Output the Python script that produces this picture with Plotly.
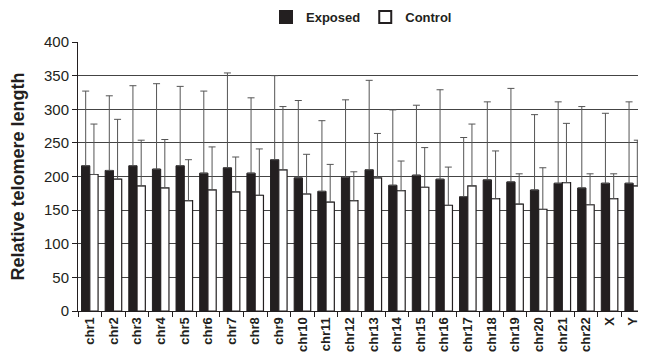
import plotly.graph_objects as go

categories = ["chr1", "chr2", "chr3", "chr4", "chr5", "chr6", "chr7", "chr8", "chr9", "chr10",
              "chr11", "chr12", "chr13", "chr14", "chr15", "chr16", "chr17", "chr18", "chr19",
              "chr20", "chr21", "chr22", "X", "Y"]
exposed = [216, 209, 216, 211, 216, 205, 213, 205, 225, 198, 178, 199, 210, 187, 202, 196,
           170, 195, 192, 180, 190, 183, 190, 190]
exposed_sd = [111, 111, 119, 127, 118, 122, 141, 112, 125, 115, 105, 115, 133, 112, 104, 133,
              88, 116, 139, 112, 121, 121, 104, 121]
control = [203, 196, 186, 183, 164, 180, 177, 172, 210, 174, 162, 164, 198, 179, 184, 157,
           186, 167, 159, 151, 191, 158, 167, 186]
control_sd = [75, 89, 68, 72, 61, 64, 52, 69, 94, 59, 56, 43, 66, 44, 59, 57,
              92, 71, 45, 62, 88, 46, 37, 68]
y_ticks = [0, 50, 100, 150, 200, 250, 300, 350, 400]

FONT = "Liberation Sans, Arial, Helvetica, sans-serif"
ERR = dict(type="data", symmetric=False, color="#555555", thickness=1, width=3.5)

fig = go.Figure()
fig.add_trace(go.Bar(
    name="Exposed", x=categories, y=exposed,
    marker=dict(color="#231f20", line=dict(color="#231f20", width=1)),
    error_y=dict(array=exposed_sd, arrayminus=[0] * len(exposed_sd), **ERR),
))
fig.add_trace(go.Bar(
    name="Control", x=categories, y=control,
    marker=dict(color="white", line=dict(color="#231f20", width=1.2)),
    error_y=dict(array=control_sd, arrayminus=[0] * len(control_sd), **ERR),
))

# the page body adds an 8px offset, so the figure is sized to end at the window edge
fig.update_layout(
    width=638, height=351,
    margin=dict(l=69.5, r=1, t=34, b=48.3, autoexpand=False),
    paper_bgcolor="white", plot_bgcolor="white",
    barmode="group", bargap=0.3, bargroupgap=0,
    font=dict(family=FONT, color="#231f20"),
    showlegend=True,
    legend=dict(orientation="h", x=0.5, xanchor="center", y=1.093, yanchor="middle",
                font=dict(size=13, family=FONT, weight="bold"),
                bgcolor="rgba(0,0,0,0)", itemsizing="constant"),
)
fig.update_xaxes(
    type="category", tickson="boundaries", ticks="outside", ticklen=5, tickcolor="#231f20",
    tickangle=-90, showline=True, linecolor="#231f20", linewidth=1, showgrid=False,
    automargin=False,
    tickfont=dict(size=13, family=FONT, weight="bold", color="#231f20"),
)
fig.update_yaxes(
    range=[0, 400], tickvals=y_ticks, ticks="outside", ticklen=5, tickcolor="#231f20",
    showline=True, linecolor="#231f20", linewidth=1, automargin=False,
    showgrid=True, gridcolor="#444444", gridwidth=1, zeroline=False,
    tickfont=dict(size=15, family=FONT, color="#231f20"),
    title=dict(text="Relative telomere length", standoff=19,
               font=dict(size=18, family=FONT, weight="bold", color="#231f20")),
)

fig.write_html("out.html")
